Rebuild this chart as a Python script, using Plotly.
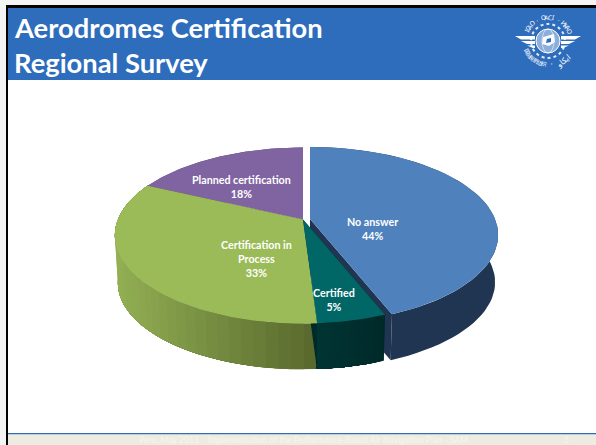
import math
import plotly.graph_objects as go

# ---- data ----
categories = ["No answer", "Certified", "Certification in<br>Process", "Planned certification"]
values = [44, 5, 33, 18]
top_colors = ["#4f81bd", "#006666", "#9bbb59", "#8064a2"]
side_near = ["#1f3552", "#002a2a", "#5a6a2e", "#4d3c62"]
side_far = ["#1f3552", "#003533", "#93b054", "#4d3c62"]
explode = [(7, -0.5), (0, 0), (0, 0), (0, 0)]
label_xy = [(372, 228.5), (334, 299), (256, 258), (241, 186)]
title_lines = ["Aerodromes Certification", "Regional Survey"]
footer_text = "Peru, May 2011    Implementation of the Performance-Based Air Navigation Plan - SAM"
page_number = "5"

# ---- pie projection (screen pixels) ----
HUB_X, HUB_Y = 303.0, 219.5
A, B, K = 185.0, 85.1, 0.1818
DEPTH_HUB, DEPTH_SCALE = 47.5, 0.984


def project(phi, r=1.0, bottom=False, shift=(0, 0)):
    u, v = r * math.sin(phi), r * math.cos(phi)
    w = 1 + K * v
    s = DEPTH_SCALE if bottom else 1.0
    x = HUB_X + s * A * u / w + shift[0]
    y = HUB_Y + (DEPTH_HUB if bottom else 0) - s * B * v / w + shift[1]
    return x, y


def arc(p0, p1, bottom=False, shift=(0, 0), n=80):
    return [project(p0 + (p1 - p0) * i / n, 1.0, bottom, shift) for i in range(n + 1)]


def lerp_color(c0, c1, t):
    a = [int(c0[i:i + 2], 16) for i in (1, 3, 5)]
    b = [int(c1[i:i + 2], 16) for i in (1, 3, 5)]
    return "rgb(%d,%d,%d)" % tuple(round(a[i] + (b[i] - a[i]) * t) for i in range(3))


fig = go.Figure()


def poly(points, color):
    fig.add_trace(go.Scatter(
        x=[p[0] for p in points], y=[p[1] for p in points],
        mode="lines", fill="toself", fillcolor=color,
        line=dict(color=color, width=0),
        hoverinfo="skip", showlegend=False,
    ))


total = sum(values)
edges = [0.0]
for val in values:
    edges.append(edges[-1] + val / total * 2 * math.pi)

order = [0, 3, 2, 1]  # far / exploded slices first
# side walls
for i in order:
    p0, p1 = edges[i], edges[i + 1]
    sh = explode[i]
    hub_top = project(0, 0, False, sh)
    hub_bot = project(0, 0, True, sh)
    end_top = project(p1, 1, False, sh)
    end_bot = project(p1, 1, True, sh)
    start_top = project(p0, 1, False, sh)
    start_bot = project(p0, 1, True, sh)
    poly([hub_top, end_top, end_bot, hub_bot], side_near[i])
    poly([hub_top, start_top, start_bot, hub_bot], side_near[i])
    # painter's sweep: each step repaints everything still ahead of it, so no seams
    steps = 1 if side_near[i] == side_far[i] else 36
    xs = [project(p0 + (p1 - p0) * k / 60)[0] for k in range(61)]
    x_hi, x_lo = max(xs), min(xs)
    for s in range(steps):
        a0 = p0 + (p1 - p0) * s / steps
        t = (x_hi - project(a0)[0]) / (x_hi - x_lo)
        poly(arc(a0, p1, False, sh, 60) + arc(p1, a0, True, sh, 60),
             lerp_color(side_near[i], side_far[i], t))

# top faces
for i in order:
    p0, p1 = edges[i], edges[i + 1]
    sh = explode[i]
    poly([project(0, 0, False, sh)] + arc(p0, p1, False, sh) + [project(0, 0, False, sh)], top_colors[i])

annotations = []
for i, name in enumerate(categories):
    annotations.append(dict(
        x=label_xy[i][0], y=label_xy[i][1], xref="x", yref="y", showarrow=False,
        text="<b>%s<br>%d%%</b>" % (name, values[i]), align="center",
        font=dict(family="Lato", size=10.7, color="white"),
    ))

# title and footer
for line, y in zip(title_lines, (27, 62)):
    annotations.append(dict(x=12, y=y, xref="x", yref="y", xanchor="left", showarrow=False,
                            text="<b>%s</b>" % line,
                            font=dict(family="Lato", size=27.3, color="white")))
annotations.append(dict(x=303, y=439.5, xref="x", yref="y", showarrow=False, text=footer_text,
                        font=dict(family="Lato", size=8.6, color="#f6f5ef")))
annotations.append(dict(x=566, y=439.5, xref="x", yref="y", showarrow=False, text=page_number,
                        font=dict(family="Lato", size=8.6, color="#f6f5ef")))

# ---- ICAO emblem ----
LX, LY = 548.0, 41.0
WHITE = dict(width=0)


def wing(side, y0, y1, outer, inner=13):
    return dict(type="path", fillcolor="white", line=WHITE,
                path=f"M {LX+side*outer} {y0} L {LX+side*inner} {y0} L {LX+side*inner} {y1} "
                     f"L {LX+side*(outer-6)} {y1} Z")


emblem = [
    dict(type="circle", x0=LX - 17, x1=LX + 17, y0=LY - 17, y1=LY + 17,
         line=dict(color="rgba(255,255,255,0.85)", width=2, dash="dot")),
    dict(type="circle", x0=LX - 12, x1=LX + 12, y0=LY - 12, y1=LY + 12,
         line=dict(color="white", width=1), fillcolor="rgba(255,255,255,0.45)"),
    dict(type="circle", x0=LX - 6, x1=LX + 6, y0=LY - 12, y1=LY + 12,
         line=dict(color="rgba(255,255,255,0.8)", width=0.7)),
    dict(type="path", path=f"M {LX-5} {LY-4} L {LX+6} {LY-7} L {LX+7} {LY+1} L {LX+1} {LY+5} L {LX-6} {LY+3} Z",
         fillcolor="rgba(255,255,255,0.95)", line=WHITE),
    dict(type="path", path=f"M {LX-1} {LY-2} L {LX+3} {LY-3} L {LX+3} {LY+1} L {LX-2} {LY+2} Z",
         fillcolor="#2e6cbc", line=WHITE),
]
for side in (-1, 1):
    emblem += [wing(side, 36, 39.5, 33), wing(side, 41, 44, 27), wing(side, 45.5, 48, 21)]

ring_text = "ICAO · OACI · ИКАО"
for j, ch in enumerate(ring_text):
    ang = math.radians(-66 + 132 * j / (len(ring_text) - 1))
    annotations.append(dict(x=LX + 23.5 * math.sin(ang), y=LY - 23.5 * math.cos(ang), xref="x", yref="y",
                            showarrow=False, text=ch, textangle=math.degrees(ang),
                            font=dict(family="Noto Sans", size=6.5, color="white")))
bottom_text = "国际民航组织 ·"
for j, ch in enumerate(bottom_text):
    if ch == " ":
        continue
    ang = math.radians(-62 + 72 * j / (len(bottom_text) - 1))
    annotations.append(dict(x=LX + 23.5 * math.sin(ang), y=LY + 23.5 * math.cos(ang), xref="x", yref="y",
                            showarrow=False, text=ch, textangle=-math.degrees(ang),
                            font=dict(family="Noto Sans CJK SC", size=5.5, color="white")))
annotations.append(dict(x=LX + 15, y=LY + 20, xref="x", yref="y", showarrow=False, text="ايكاو",
                        textangle=-40, font=dict(family="DejaVu Sans", size=8, color="white")))

# ---- slide frame ----
frame = [
    dict(type="rect", x0=0, x1=596, y0=0, y1=445, fillcolor="#f4f4f4", line=WHITE, layer="below"),
    dict(type="rect", x0=6, x1=596, y0=5, y1=445, fillcolor="black", line=WHITE, layer="below"),
    dict(type="rect", x0=8, x1=596, y0=8, y1=445, fillcolor="white", line=WHITE, layer="below"),
    dict(type="rect", x0=8, x1=596, y0=8, y1=80, fillcolor="#2e6cbc", line=WHITE, layer="below"),
    dict(type="rect", x0=8, x1=596, y0=434, y1=445, fillcolor="#eeece1", line=WHITE, layer="below"),
    dict(type="rect", x0=8, x1=596, y0=433, y1=434.2, fillcolor="#2e6cbc", line=WHITE, layer="below"),
]

fig.update_layout(
    width=596, height=445, margin=dict(l=0, r=0, t=0, b=0),
    paper_bgcolor="white", plot_bgcolor="white", showlegend=False,
    xaxis=dict(range=[0, 596], visible=False, fixedrange=True),
    yaxis=dict(range=[445, 0], visible=False, fixedrange=True),
    shapes=frame + emblem, annotations=annotations,
)
fig.write_html("out.html", config={"displayModeBar": False},
               post_script="document.body.style.margin='0';document.body.style.overflow='hidden';")
